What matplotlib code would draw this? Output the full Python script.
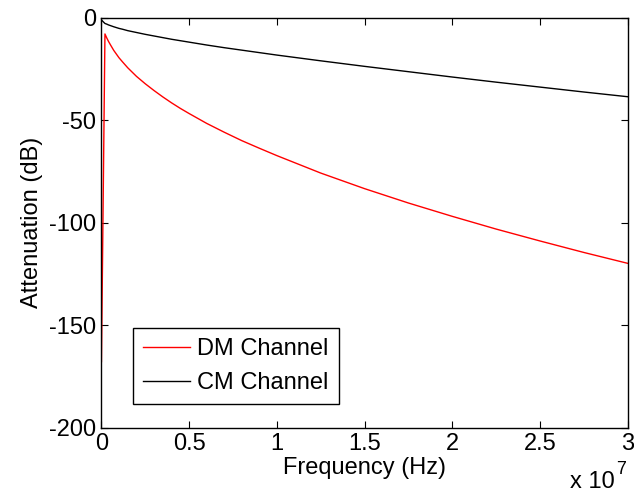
import matplotlib
matplotlib.use("Agg")
import matplotlib.pyplot as plt

# frequency points (units of 1e7 Hz) and attenuation (dB)
freq = [0, 0.02, 0.03, 0.04, 0.05, 0.07, 0.1, 0.12, 0.15, 0.2, 0.25, 0.3,
        0.35, 0.4, 0.45, 0.5, 0.6, 0.7, 0.8, 0.9, 1.0, 1.25, 1.5, 1.75,
        2.0, 2.25, 2.5, 2.75, 3.0]
dm_channel = [-167.7, -8.0, -9.9, -11.6, -13.1, -16.0, -19.6, -21.6, -24.5,
              -28.7, -32.3, -35.6, -38.7, -41.6, -44.3, -46.8, -51.6,
              -55.9, -60.0, -63.7, -67.3, -75.8, -83.4, -90.4, -96.9,
              -103.1, -108.9, -114.5, -119.8]
cm_channel = [-1.2, -2.9, -3.2, -3.6, -3.9, -4.5, -5.3, -5.7, -6.4, -7.3,
              -8.2, -9.0, -9.8, -10.6, -11.3, -12.0, -13.4, -14.7, -15.9,
              -17.1, -18.3, -21.1, -23.8, -26.4, -29.0, -31.5, -33.9,
              -36.3, -38.6]
series_labels = ["DM Channel", "CM Channel"]
xticks = [0, 0.5, 1, 1.5, 2, 2.5, 3]
xtick_labels = ["0", "0.5", "1", "1.5", "2", "2.5", "3"]
yticks = [-200, -150, -100, -50, 0]

plt.rcParams["font.family"] = ["Liberation Sans", "DejaVu Sans"]
plt.rcParams["font.size"] = 17
plt.rcParams["axes.unicode_minus"] = False

fig = plt.figure(figsize=(6.34, 4.95), dpi=100)
ax = fig.add_axes([0.160, 0.1356, 0.830, 0.829])

ax.plot(freq, dm_channel, color="red", lw=1.0, label=series_labels[0])
ax.plot(freq, cm_channel, color="black", lw=1.0, label=series_labels[1])

ax.set_xlim(0, 3)
ax.set_ylim(-200, 0)
ax.set_xticks(xticks)
ax.set_xticklabels(xtick_labels)
ax.set_yticks(yticks)
ax.tick_params(direction="in", length=5, width=0.8, top=True, right=True,
               labelsize=17, pad=4)
for sp in ax.spines.values():
    sp.set_linewidth(1.0)

ax.set_xlabel("Frequency (Hz)", fontsize=17, labelpad=1)
ax.set_ylabel("Attenuation (dB)", fontsize=17, labelpad=4)

# exponent note, MATLAB style: "x 10" with a raised 7
ax.text(0.976, -0.146, "x 10", transform=ax.transAxes,
        ha="right", va="baseline", fontsize=17)
ax.text(0.978, -0.112, "7", transform=ax.transAxes,
        ha="left", va="baseline", fontsize=13)

leg = ax.legend(loc="lower left", bbox_to_anchor=(0.0604, 0.0575),
                borderaxespad=0, fancybox=False, framealpha=1,
                edgecolor="black", handlelength=2.0, handletextpad=0.3,
                borderpad=0.42, labelspacing=0.52, fontsize=17)
leg.get_frame().set_linewidth(1.0)

fig.savefig("out.png", dpi=100)
